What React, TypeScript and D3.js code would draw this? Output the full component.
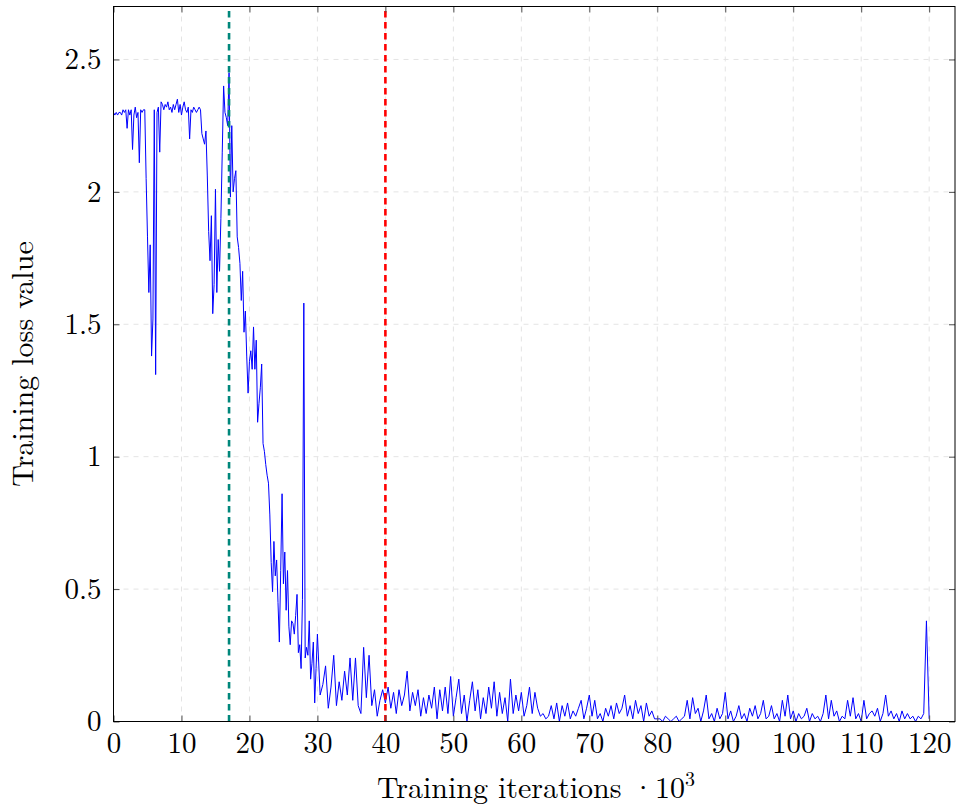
import * as d3 from "d3";
import { useEffect, useRef } from "react";

// training loss logged every 200 iterations (x in thousands) up to 30k
const earlyStep = 0.2;
const earlyLoss = [
  2.3, 2.29, 2.3, 2.29, 2.3, 2.3, 2.29, 2.31, 2.3, 2.31,
  2.24, 2.31, 2.29, 2.31, 2.16, 2.29, 2.32, 2.28, 2.3, 2.11,
  2.31, 2.3, 2.31, 2.31, 2.05, 1.83, 1.62, 1.8, 1.38, 1.52,
  2.31, 1.31, 2.3, 2.32, 2.15, 2.34, 2.33, 2.31, 2.33, 2.32,
  2.34, 2.31, 2.32, 2.3, 2.33, 2.31, 2.33, 2.35, 2.3, 2.33,
  2.29, 2.32, 2.34, 2.31, 2.3, 2.32, 2.2, 2.31, 2.3, 2.32,
  2.31, 2.3, 2.31, 2.32, 2.31, 2.22, 2.2, 2.18, 2.23, 2.06,
  1.85, 1.74, 1.91, 1.54, 1.65, 2.01, 1.62, 1.82, 1.7, 1.9,
  2.15, 2.4, 2.3, 2.28, 2.25, 2.45, 1.98, 2.25, 2.0, 2.05,
  2.08, 1.83, 1.79, 1.73, 1.59, 1.7, 1.47, 1.55, 1.38, 1.24,
  1.36, 1.4, 1.33, 1.49, 1.33, 1.44, 1.13, 1.2, 1.26, 1.35,
  1.05, 1.02, 0.97, 0.93, 0.9, 0.78, 0.6, 0.49, 0.68, 0.55,
  0.61, 0.45, 0.3, 0.57, 0.86, 0.52, 0.64, 0.42, 0.57, 0.36,
  0.29, 0.38, 0.37, 0.33, 0.4, 0.48, 0.26, 0.29, 0.2, 0.46,
  1.58, 0.24, 0.28, 0.25, 0.38, 0.16, 0.22, 0.3, 0.07, 0.2,
  0.33,
];

// after 30k the log gets sparser: every 400 iterations
const lateStart = 30.4;
const lateStep = 0.4;
const lateLoss = [
  0.1, 0.14, 0.21, 0.05, 0.13, 0.25, 0.06, 0.15, 0.08, 0.19,
  0.1, 0.24, 0.08, 0.24, 0.06, 0.03, 0.28, 0.09, 0.25, 0.06,
  0.12, 0.02, 0.08, 0.12, 0.07, 0.13, 0.05, 0.11, 0.03, 0.12,
  0.06, 0.1, 0.19, 0.04, 0.11, 0.06, 0.12, 0.02, 0.09, 0.03,
  0.1, 0.05, 0.13, 0.01, 0.12, 0.04, 0.13, 0.03, 0.17, 0.02,
  0.09, 0.16, 0.03, 0.1, 0.0, 0.08, 0.15, 0.04, 0.12, 0.01,
  0.09, 0.03, 0.13, 0.05, 0.15, 0.02, 0.11, 0.03, 0.09, 0.0,
  0.16, 0.03, 0.1, 0.04, 0.11, 0.02, 0.06, 0.13, 0.03, 0.11,
  0.05, 0.02, 0.03, 0.01, 0.02, 0.06, 0.01, 0.07, 0.0, 0.06,
  0.02, 0.07, 0.01, 0.04, 0.02, 0.05, 0.08, 0.01, 0.05, 0.1,
  0.02, 0.08, 0.01, 0.03, 0.0, 0.05, 0.02, 0.06, 0.01, 0.07,
  0.03, 0.05, 0.1, 0.02, 0.06, 0.01, 0.08, 0.03, 0.06, 0.0,
  0.07, 0.02, 0.04, 0.01, 0.01, 0.01, 0.0, 0.02, 0.01, 0.0,
  0.01, 0.02, 0.0, 0.01, 0.02, 0.08, 0.01, 0.09, 0.03, 0.05,
  0.0, 0.04, 0.1, 0.01, 0.03, 0.0, 0.05, 0.01, 0.03, 0.11,
  0.01, 0.04, 0.0, 0.02, 0.06, 0.01, 0.03, 0.0, 0.05, 0.02,
  0.06, 0.01, 0.03, 0.08, 0.01, 0.02, 0.06, 0.01, 0.03, 0.0,
  0.08, 0.02, 0.1, 0.01, 0.04, 0.0, 0.03, 0.01, 0.02, 0.05,
  0.0, 0.03, 0.01, 0.02, 0.0, 0.03, 0.1, 0.01, 0.08, 0.02,
  0.04, 0.0, 0.02, 0.01, 0.08, 0.02, 0.09, 0.01, 0.03, 0.0,
  0.08, 0.01, 0.03, 0.04, 0.02, 0.05, 0.0, 0.03, 0.1, 0.02,
  0.04, 0.01, 0.03, 0.0, 0.04, 0.01, 0.03, 0.01, 0.02, 0.0,
  0.02, 0.01, 0.03, 0.38, 0.01,
];

const xTicks = [0, 10, 20, 30, 40, 50, 60, 70, 80, 90, 100, 110, 120];
const yTicks = [0, 0.5, 1, 1.5, 2, 2.5];
const xMax = 123.8;
const yMax = 2.7;
// iterations (thousands) where the learning rate schedule changes
const markerIterations = [17, 40];
const markerColors = ["#00877b", "#ff0000"];

const font = "'Latin Modern Roman', 'CMU Serif', 'Liberation Serif', serif";

function drawLossChart(svgElement: SVGSVGElement) {
  const width = 956;
  const height = 807;
  const margin = { top: 6.5, right: 1, bottom: 85.5, left: 113.5 };
  const svg = d3.select(svgElement);

  svg.selectAll("*").remove();
  svg.attr("width", width).attr("height", height).attr("viewBox", `0 0 ${width} ${height}`);

  const x = d3.scaleLinear().domain([0, xMax]).range([margin.left, width - margin.right]);
  const y = d3.scaleLinear().domain([0, yMax]).range([height - margin.bottom, margin.top]);

  const points: [number, number][] = [
    ...earlyLoss.map((v, i) => [i * earlyStep, v] as [number, number]),
    ...lateLoss.map((v, i) => [lateStart + i * lateStep, v] as [number, number]),
  ];

  // dashed grid
  const grid = svg
    .append("g")
    .attr("stroke", "#e4e4e4")
    .attr("stroke-width", 1)
    .attr("stroke-dasharray", "5,5");
  grid
    .selectAll("line.gx")
    .data(xTicks.filter((t) => t > 0))
    .join("line")
    .attr("x1", (t) => x(t))
    .attr("x2", (t) => x(t))
    .attr("y1", y(0))
    .attr("y2", y(yMax));
  grid
    .selectAll("line.gy")
    .data(yTicks.filter((t) => t > 0))
    .join("line")
    .attr("x1", x(0))
    .attr("x2", x(xMax))
    .attr("y1", (t) => y(t))
    .attr("y2", (t) => y(t));

  svg
    .append("path")
    .datum(points)
    .attr("fill", "none")
    .attr("stroke", "#0000ff")
    .attr("stroke-width", 1)
    .attr("stroke-linejoin", "round")
    .attr(
      "d",
      d3
        .line<[number, number]>()
        .x((d) => x(d[0]))
        .y((d) => y(d[1]))
    );

  svg
    .append("g")
    .selectAll("line")
    .data(markerIterations)
    .join("line")
    .attr("x1", (d) => x(d))
    .attr("x2", (d) => x(d))
    .attr("y1", y(0))
    .attr("y2", y(yMax))
    .attr("stroke", (_, i) => markerColors[i])
    .attr("stroke-width", 2.6)
    .attr("stroke-dasharray", "6.5,4.5");

  const styleAxis = (g: d3.Selection<SVGGElement, unknown, null, undefined>) => {
    g.select(".domain").remove();
    g.selectAll(".tick line").attr("stroke", "#4d4d4d");
    g.selectAll("text").attr("font-family", font).attr("font-size", 29).attr("fill", "#000");
  };

  svg
    .append("g")
    .attr("transform", `translate(0,${y(0)})`)
    .call(d3.axisBottom(x).tickValues(xTicks).tickSize(-6).tickPadding(11).tickFormat(d3.format("d")))
    .call(styleAxis);

  svg
    .append("g")
    .attr("transform", `translate(${x(0)},0)`)
    .call(
      d3
        .axisLeft(y)
        .tickValues(yTicks)
        .tickSize(-6)
        .tickPadding(12)
        .tickFormat((d) => String(d))
    )
    .call(styleAxis);

  // mirrored ticks on top and right
  svg
    .append("g")
    .attr("transform", `translate(0,${y(yMax)})`)
    .call(d3.axisTop(x).tickValues(xTicks).tickSize(-6).tickFormat(() => ""))
    .call(styleAxis);
  svg
    .append("g")
    .attr("transform", `translate(${x(xMax)},0)`)
    .call(d3.axisRight(y).tickValues(yTicks).tickSize(-6).tickFormat(() => ""))
    .call(styleAxis);

  svg
    .append("rect")
    .attr("x", x(0))
    .attr("y", y(yMax))
    .attr("width", x(xMax) - x(0))
    .attr("height", y(0) - y(yMax))
    .attr("fill", "none")
    .attr("stroke", "#000")
    .attr("stroke-width", 1);

  const xTitle = svg
    .append("text")
    .attr("x", 536)
    .attr("y", 798)
    .attr("text-anchor", "middle")
    .attr("font-family", font)
    .attr("font-size", 30)
    .attr("fill", "#000");
  xTitle.append("tspan").text("Training iterations \u00b710");
  xTitle.append("tspan").attr("font-size", 20).attr("dy", -12).text("3");

  svg
    .append("text")
    .attr("transform", `translate(33,${(y(0) + y(yMax)) / 2}) rotate(-90)`)
    .attr("text-anchor", "middle")
    .attr("font-family", font)
    .attr("font-size", 30)
    .attr("fill", "#000")
    .text("Training loss value");
}

export default function App() {
  const svgRef = useRef<SVGSVGElement>(null);

  useEffect(() => {
    if (svgRef.current) drawLossChart(svgRef.current);
  }, []);

  return (
    <svg
      ref={svgRef}
      role="img"
      aria-label="Training loss value over training iterations"
      style={{ position: "absolute", left: 0, top: 0, display: "block", background: "#fff" }}
    />
  );
}
